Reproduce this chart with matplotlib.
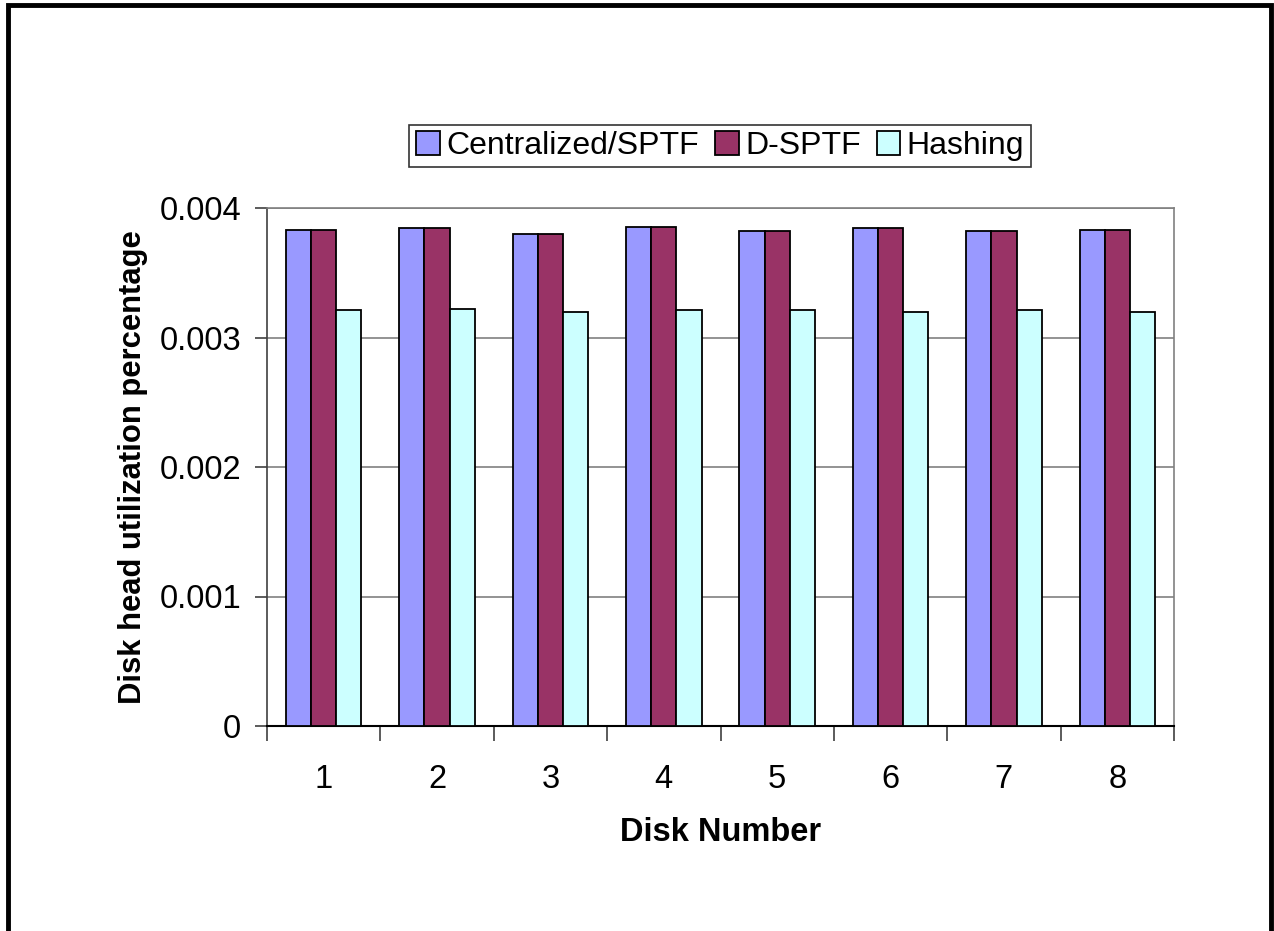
import numpy as np
import matplotlib
matplotlib.use("Agg")
import matplotlib.pyplot as plt
from matplotlib.patches import Rectangle

plt.rcParams['font.family'] = ['Liberation Sans', 'DejaVu Sans']

# values
disks = ["1", "2", "3", "4", "5", "6", "7", "8"]
centralized = [0.00383, 0.003842, 0.0038, 0.00385, 0.003824, 0.003843, 0.00382, 0.00383]
dsptf = [0.00383, 0.003842, 0.0038, 0.00385, 0.003824, 0.003843, 0.00382, 0.00383]
hashing = [0.00321, 0.00322, 0.0032, 0.00321, 0.00321, 0.0032, 0.00321, 0.0032]
series = ["Centralized/SPTF", "D-SPTF", "Hashing"]
colors = ["#9999FF", "#993366", "#CCFFFF"]

fig = plt.figure(figsize=(12.74, 9.31), dpi=100)
ax = fig.add_axes([267/1274, 1-726/931, (1174-267)/1274, (726-208)/931])

x = np.arange(len(disks))
w = 0.222
for k, (vals, col, name) in enumerate(zip([centralized, dsptf, hashing], colors, series)):
    ax.bar(x + (k-1)*w, vals, width=w, color=col, edgecolor="black", linewidth=1.3, label=name, zorder=3)

ax.set_xlim(-0.5, len(disks)-0.5)
ax.set_ylim(0, 0.004)
ax.set_yticks([0, 0.001, 0.002, 0.003, 0.004])
ax.set_yticklabels(["0", "0.001", "0.002", "0.003", "0.004"], fontsize=23.5)
ax.yaxis.grid(True, color="#808080", linewidth=1.2, zorder=0)

# x ticks at group boundaries, labels in the middle
ax.set_xticks(np.arange(len(disks)+1) - 0.5)
ax.set_xticklabels([])
ax.set_xticks(x, minor=True)
ax.set_xticklabels(disks, minor=True, fontsize=23.5)
ax.tick_params(axis="x", which="major", length=11, width=1.2, color="#404040", direction="out")
ax.tick_params(axis="x", which="minor", length=0, pad=27)
ax.tick_params(axis="y", length=9, width=1.2, color="#404040", direction="out", pad=9.5)

for s in ["top", "right"]:
    ax.spines[s].set_color("#808080")
    ax.spines[s].set_linewidth(1.2)
ax.spines["left"].set_color("#404040")
ax.spines["left"].set_linewidth(1.2)
ax.spines["bottom"].set_color("black")
ax.spines["bottom"].set_linewidth(1.5)

ax.set_xlabel("Disk Number", fontsize=23.5, fontweight="bold", labelpad=16)
ax.set_ylabel("Disk head utilization percentage", fontsize=22.3, fontweight="bold", labelpad=8)

leg = fig.legend(loc="center", bbox_to_anchor=(720/1274, 1-146/931), ncol=3, fontsize=23,
                 frameon=True, fancybox=False, edgecolor="black", handlelength=0.75, handleheight=0.75,
                 handletextpad=0.2, columnspacing=0.5, borderpad=0.2, borderaxespad=0)
leg.get_frame().set_linewidth(1.2)

# outer frame, bottom edge falls off the canvas
fig.patches.append(Rectangle((8/1274, -0.1), (1271-8)/1274, 1.1 - 5.5/931, transform=fig.transFigure,
                             fill=False, edgecolor="black", linewidth=3.5))

fig.savefig("out.png", dpi=100)
